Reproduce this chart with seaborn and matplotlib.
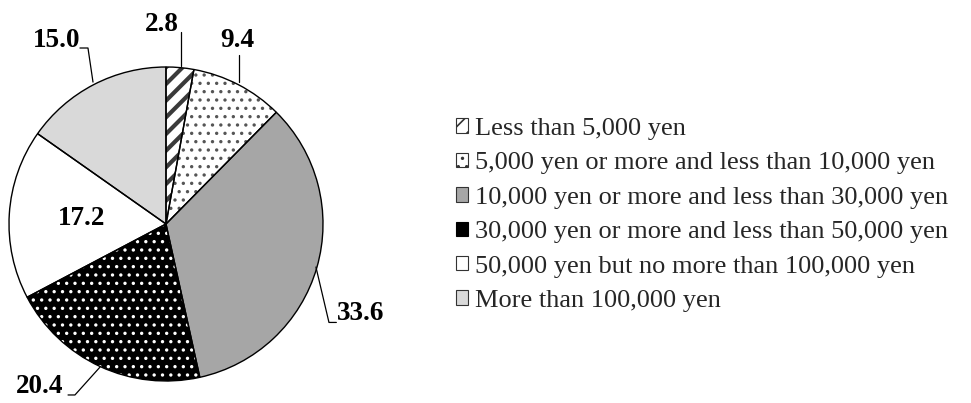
import numpy as np
import matplotlib
matplotlib.use("Agg")
import matplotlib.pyplot as plt
import seaborn as sns
from matplotlib.patches import Patch

# ----------------------------------------
# Data
# ----------------------------------------
categories = [
    "Less than 5,000 yen",
    "5,000 yen or more and less than 10,000 yen",
    "10,000 yen or more and less than 30,000 yen",
    "30,000 yen or more and less than 50,000 yen",
    "50,000 yen but no more than 100,000 yen",
    "More than 100,000 yen",
]
shares = [2.8, 9.4, 33.6, 20.4, 17.2, 15.0]

# ----------------------------------------
# Styles
# ----------------------------------------
face_colors = ["white", "white", "#a6a6a6", "black", "white", "#d9d9d9"]
hatch_colors = ["#3a3a3a", "#555555", "black", "white", "black", "black"]
hatches = ["//", "..", "", "..", "", ""]

# label text position and leader line path (axes data units, radius = 1)
label_pos = [(-0.025, 1.27), (0.452, 1.166), (1.242, -0.573),
             (-0.803, -1.038), (-0.535, 0.038), (-0.694, 1.166)]
leaders = [
    [(0.096, 1.223), (0.096, 1.006)],
    [(0.465, 1.076), (0.465, 0.904)],
    [(0.955, -0.274), (1.038, -0.627), (1.085, -0.627)],
    [(-0.624, -1.089), (-0.580, -1.089), (-0.420, -0.911)],
    None,
    [(-0.548, 1.121), (-0.497, 1.121), (-0.465, 0.904)],
]

sns.set_theme(style="white")
plt.rcParams["font.family"] = ["Liberation Serif", "DejaVu Serif"]
plt.rcParams["hatch.linewidth"] = 1.2

W, H = 971, 403
fig = plt.figure(figsize=(W / 100, H / 100), dpi=100)

cx, cy, r = 166, 224, 157
ax = fig.add_axes([(cx - r) / W, (H - cy - r) / H, 2 * r / W, 2 * r / H])

# ----------------------------------------
# Pie: fill + hatch layer, then outline layer
# ----------------------------------------
wedges, _ = ax.pie(shares, startangle=90, counterclock=False,
                   colors=face_colors, radius=1,
                   wedgeprops=dict(linewidth=0))
for w, hc, h in zip(wedges, hatch_colors, hatches):
    w.set_hatch(h)
    w.set_edgecolor(hc)
    if h == "//" and hasattr(w, "set_hatch_linewidth"):
        w.set_hatch_linewidth(3.0)

ax.pie(shares, startangle=90, counterclock=False, radius=1,
       wedgeprops=dict(fill=False, edgecolor="black", linewidth=1.0))

ax.set_xlim(-1.0, 1.0)
ax.set_ylim(-1.0, 1.0)
ax.set_aspect("equal")
ax.axis("off")

# ----------------------------------------
# Value labels
# ----------------------------------------
for val, pos, path in zip(shares, label_pos, leaders):
    ax.text(pos[0], pos[1], f"{val:.1f}", ha="center", va="center",
            fontsize=19.5, fontweight="bold", color="black", clip_on=False)
    if path is not None:
        xs, ys = zip(*path)
        ax.plot(xs, ys, color="black", linewidth=0.9, clip_on=False)

# ----------------------------------------
# Legend
# ----------------------------------------
handles = []
for fc, hc, h in zip(face_colors, hatch_colors, hatches):
    if fc == "black":
        handles.append(Patch(facecolor="black", edgecolor="black", linewidth=0.8))
    else:
        handles.append(Patch(facecolor=fc, edgecolor="#333333", hatch=h, linewidth=0.8))

fig.legend(handles, categories, loc="center left",
           bbox_to_anchor=(456 / W, (H - 215) / H),
           frameon=False, fontsize=19, handlelength=0.47, handleheight=0.47,
           handletextpad=0.25, labelspacing=0.47, borderpad=0, borderaxespad=0)

fig.savefig("out.png", dpi=100, facecolor="white")
